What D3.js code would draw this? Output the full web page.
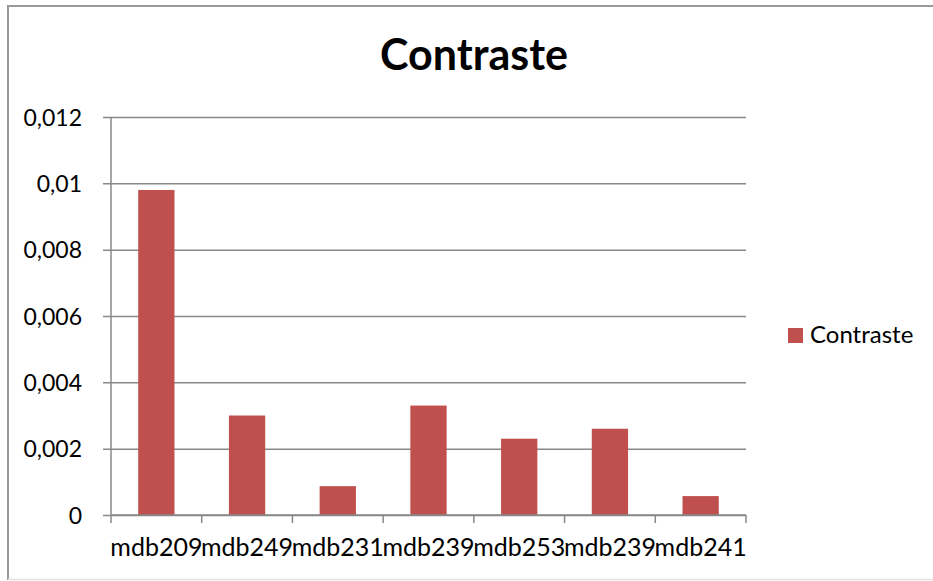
<!DOCTYPE html>
<html>
<head>
<meta charset="utf-8">
<script src="https://cdn.jsdelivr.net/npm/d3@7"></script>
<style>
  html, body { margin: 0; padding: 0; background: #ffffff; }
  svg { display: block; }
  text { font-family: Lato, "Open Sans", sans-serif; fill: #000; }
</style>
</head>
<body>
<svg id="chart" width="933" height="581"></svg>
<script>
// Series data
const categories = ["mdb209", "mdb249", "mdb231", "mdb239", "mdb253", "mdb239", "mdb241"];
const contraste = [0.0098, 0.0030, 0.00087, 0.0033, 0.0023, 0.0026, 0.00057];
const yTicks = [0, 0.002, 0.004, 0.006, 0.008, 0.010, 0.012];
const yTickLabels = ["0", "0,002", "0,004", "0,006", "0,008", "0,01", "0,012"];
const seriesName = "Contraste";
const chartTitle = "Contraste";

const svg = d3.select("#chart");
const W = 933, H = 581;
const plot = { left: 111, right: 746, top: 117, bottom: 515 };
const barColor = "#C0504D";
const gridColor = "#888888";

// Outer frame
svg.append("path")
  .attr("d", `M8,${H - 1} L8,6 L${W},6`)
  .attr("fill", "none")
  .attr("stroke", "#9a9a9a")
  .attr("stroke-width", 2);
svg.append("line")
  .attr("x1", 8).attr("x2", W).attr("y1", H - 1.5).attr("y2", H - 1.5)
  .attr("stroke", "#e2e2e2").attr("stroke-width", 1.5);

const x = d3.scaleBand()
  .domain(d3.range(categories.length))
  .range([plot.left, plot.right])
  .paddingInner(0.6)
  .paddingOuter(0.3);

const xOuter = d3.scaleBand()
  .domain(d3.range(categories.length))
  .range([plot.left, plot.right]);

const y = d3.scaleLinear()
  .domain([0, 0.012])
  .range([plot.bottom, plot.top]);

// Horizontal gridlines with left ticks
const yAxis = d3.axisLeft(y)
  .tickValues(yTicks)
  .tickSize(-(plot.right - plot.left))
  .tickFormat((d, i) => yTickLabels[i]);

const gy = svg.append("g")
  .attr("transform", `translate(${plot.left},0)`)
  .call(yAxis);
gy.select(".domain").remove();
gy.selectAll(".tick line")
  .attr("x1", -8)
  .attr("stroke", gridColor)
  .attr("stroke-width", 1.5);
gy.selectAll(".tick text")
  .attr("x", -29)
  .attr("dy", "0.36em")
  .style("font-family", "Lato, 'Open Sans', sans-serif")
  .style("font-size", "23px")
  .attr("fill", "#000");

// Vertical axis line
svg.append("line")
  .attr("x1", plot.left).attr("x2", plot.left)
  .attr("y1", plot.top).attr("y2", plot.bottom)
  .attr("stroke", gridColor).attr("stroke-width", 1.5);

// Bars
svg.append("g")
  .selectAll("rect")
  .data(contraste)
  .join("rect")
  .attr("x", (d, i) => x(i))
  .attr("width", x.bandwidth())
  .attr("y", d => y(d))
  .attr("height", d => y(0) - y(d))
  .attr("fill", barColor);

// Category axis
const xAxis = d3.axisBottom(xOuter)
  .tickSize(0)
  .tickFormat(i => categories[i]);
const gx = svg.append("g")
  .attr("transform", `translate(0,${plot.bottom})`)
  .call(xAxis);
gx.select(".domain")
  .attr("d", `M${plot.left},0H${plot.right}`)
  .attr("stroke", gridColor).attr("stroke-width", 1.5);
gx.selectAll(".tick text")
  .attr("y", 41)
  .attr("dy", "0")
  .style("font-family", "Lato, 'Open Sans', sans-serif")
  .style("font-size", "25px")
  .attr("fill", "#000");

// Category boundary ticks
const boundaries = d3.range(categories.length + 1).map(i => plot.left + i * xOuter.step());
svg.append("g")
  .selectAll("line")
  .data(boundaries)
  .join("line")
  .attr("x1", d => d).attr("x2", d => d)
  .attr("y1", plot.bottom).attr("y2", plot.bottom + 8)
  .attr("stroke", gridColor).attr("stroke-width", 1.5);

// Title
svg.append("text")
  .attr("x", 474)
  .attr("y", 70)
  .attr("text-anchor", "middle")
  .style("font-size", "43px")
  .style("font-weight", "bold")
  .text(chartTitle);

// Legend
const legend = svg.append("g").attr("transform", "translate(788,328)");
legend.append("rect")
  .attr("width", 15).attr("height", 15)
  .attr("fill", barColor);
legend.append("text")
  .attr("x", 22)
  .attr("y", 15)
  .style("font-size", "24px")
  .text(seriesName);
</script>
</body>
</html>
